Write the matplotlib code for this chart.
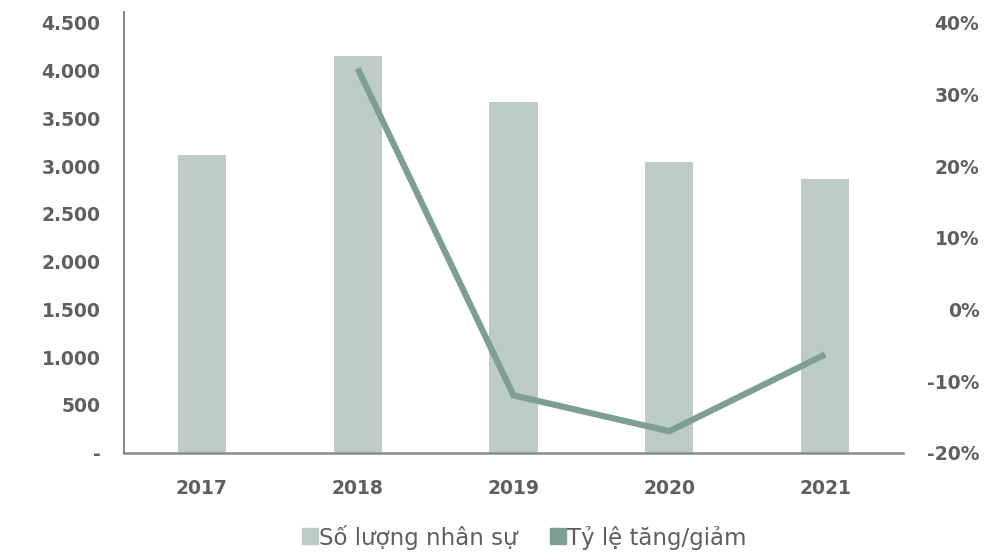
import matplotlib
matplotlib.use("Agg")
import matplotlib.pyplot as plt
from matplotlib.lines import Line2D

# Data
years = ["2017", "2018", "2019", "2020", "2021"]
headcount = [3115, 4150, 3665, 3045, 2860]
change_pct = [None, 33.6, -12.0, -17.0, -6.3]
left_ticks = [0, 500, 1000, 1500, 2000, 2500, 3000, 3500, 4000, 4500]
left_labels = ["-", "500", "1.000", "1.500", "2.000", "2.500", "3.000", "3.500", "4.000", "4.500"]
right_ticks = [-20, -10, 0, 10, 20, 30, 40]
right_labels = ["-20%", "-10%", "0%", "10%", "20%", "30%", "40%"]
legend_labels = ["Số lượng nhân sự", "Tỷ lệ tăng/giảm"]

BAR_COLOR = "#bccbc5"
LINE_COLOR = "#7d9e92"
TEXT_COLOR = "#5f5f5f"
AXIS_COLOR = "#8a8a8a"

plt.rcParams["font.family"] = ["DejaVu Sans"]

fig = plt.figure(figsize=(10.01, 5.52), dpi=100)
ax = fig.add_axes([124 / 1001, 99.3 / 552, 779 / 1001, 441 / 552])
ax2 = ax.twinx()

x = list(range(len(years)))
ax.bar(x, headcount, width=0.31, color=BAR_COLOR, zorder=2)

line_x = [i for i, v in zip(x, change_pct) if v is not None]
line_y = [v for v in change_pct if v is not None]
ax2.plot(line_x, line_y, color=LINE_COLOR, linewidth=4.5, solid_capstyle="butt",
         solid_joinstyle="miter", zorder=3)

ax.set_xlim(-0.5, 4.5)
ax.set_ylim(0, 4615)
ax2.set_ylim(-20, 41.53)

ax.set_xticks(x)
ax.set_xticklabels(years)
ax.set_yticks(left_ticks)
ax.set_yticklabels(left_labels)
ax2.set_yticks(right_ticks)
ax2.set_yticklabels(right_labels)

for a in (ax, ax2):
    for s in ("top", "right"):
        a.spines[s].set_visible(False)
ax2.spines["left"].set_visible(False)
ax2.spines["bottom"].set_visible(False)
ax.spines["left"].set_color(AXIS_COLOR)
ax.spines["bottom"].set_color(AXIS_COLOR)
ax.spines["left"].set_linewidth(1.5)
ax.spines["bottom"].set_linewidth(1.8)

ax.tick_params(axis="y", length=0, pad=17, labelsize=13.5, labelcolor=TEXT_COLOR)
ax.tick_params(axis="x", length=0, pad=19, labelsize=13.5, labelcolor=TEXT_COLOR)
ax2.tick_params(axis="y", length=0, pad=55, labelsize=13.5, labelcolor=TEXT_COLOR)
for lbl in ax.get_xticklabels() + ax.get_yticklabels() + ax2.get_yticklabels():
    lbl.set_fontweight("bold")
for lbl in ax2.get_yticklabels():
    lbl.set_horizontalalignment("right")

handles = [
    Line2D([], [], linestyle="none", marker="s", markersize=11, color=BAR_COLOR),
    Line2D([], [], linestyle="none", marker="s", markersize=11, color=LINE_COLOR),
]
fig.legend(handles, legend_labels, loc="center", bbox_to_anchor=(525 / 1001, 1 - 537 / 552),
           ncol=2, frameon=False, handlelength=0.55, handletextpad=0.1,
           columnspacing=1.5, labelcolor=TEXT_COLOR, prop={"size": 16.5})

fig.savefig("out.png", dpi=100)
